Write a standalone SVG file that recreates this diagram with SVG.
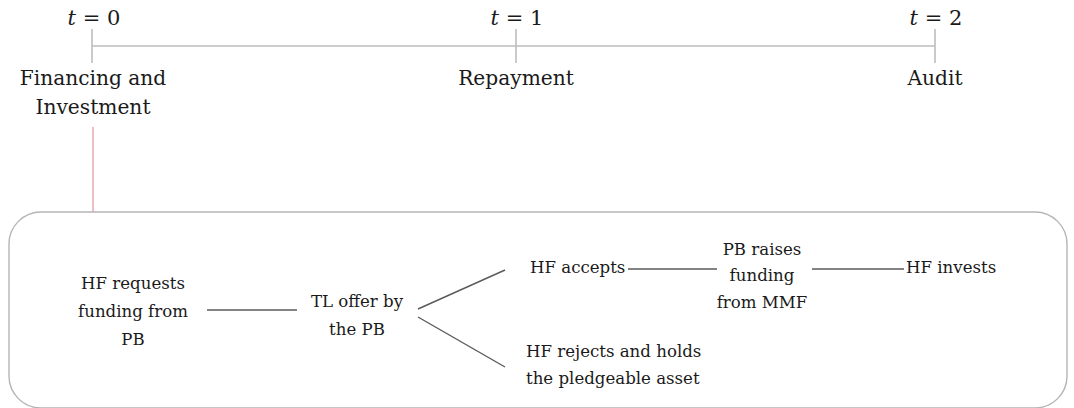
<svg xmlns="http://www.w3.org/2000/svg" width="1074" height="408" viewBox="0 0 1074 408">
  <style>
    .lbl { font-family: "DejaVu Serif", "Liberation Serif", serif; font-size: 16.6px; fill: #1a1a1a; }
    .stage { font-family: "DejaVu Serif", "Liberation Serif", serif; font-size: 20.2px; fill: #1a1a1a; }
    .math { font-family: "DejaVu Serif", "Liberation Serif", serif; font-size: 21px; fill: #1a1a1a; }
    .mid { text-anchor: middle; }
    .axis { stroke: #bdbdbd; stroke-width: 1.6; fill: none; }
    .edge { stroke: #5a5a5a; stroke-width: 1.4; fill: none; }
  </style>
  <rect width="1074" height="408" fill="#ffffff"/>

  <!-- timeline -->
  <g id="timeline">
    <line class="axis" x1="92" y1="46" x2="935" y2="46"/>
    <line class="axis" x1="92" y1="29" x2="92" y2="63"/>
    <line class="axis" x1="516" y1="29" x2="516" y2="63"/>
    <line class="axis" x1="935" y1="29" x2="935" y2="63"/>
    <text class="math mid" x="94" y="25"><tspan font-style="italic">t</tspan> = 0</text>
    <text class="math mid" x="517" y="25"><tspan font-style="italic">t</tspan> = 1</text>
    <text class="math mid" x="936" y="25"><tspan font-style="italic">t</tspan> = 2</text>
  </g>

  <g id="stage-financing">
    <text class="stage mid" x="93" y="85">Financing and</text>
    <text class="stage mid" x="93" y="114">Investment</text>
  </g>
  <g id="stage-repayment">
    <text class="stage mid" x="516" y="85">Repayment</text>
  </g>
  <g id="stage-audit">
    <text class="stage mid" x="935" y="85">Audit</text>
  </g>

  <!-- detail panel for t = 0 -->
  <line x1="93" y1="127" x2="93" y2="212" stroke="#e8a3ab" stroke-width="1.4"/>
  <rect id="detail-panel" x="9" y="212" width="1058" height="196" rx="32" ry="32" fill="none" stroke="#b5b5b5" stroke-width="1.4"/>

  <g id="connectors">
    <line class="edge" x1="207" y1="310" x2="297" y2="310"/>
    <line class="edge" x1="418" y1="309" x2="505" y2="270"/>
    <line class="edge" x1="418" y1="317" x2="505" y2="367"/>
    <line class="edge" x1="628" y1="269" x2="717" y2="269"/>
    <line class="edge" x1="812" y1="269" x2="904" y2="269"/>
  </g>

  <g id="node-request">
    <text class="lbl mid" x="133" y="289">HF requests</text>
    <text class="lbl mid" x="133" y="317">funding from</text>
    <text class="lbl mid" x="133" y="345">PB</text>
  </g>
  <g id="node-offer">
    <text class="lbl mid" x="357" y="307">TL offer by</text>
    <text class="lbl mid" x="357" y="335">the PB</text>
  </g>
  <g id="node-accept">
    <text class="lbl" x="530" y="273">HF accepts</text>
  </g>
  <g id="node-raise">
    <text class="lbl mid" x="762" y="255">PB raises</text>
    <text class="lbl mid" x="762" y="281">funding</text>
    <text class="lbl mid" x="762" y="308">from MMF</text>
  </g>
  <g id="node-invest">
    <text class="lbl" x="906" y="273">HF invests</text>
  </g>
  <g id="node-reject">
    <text class="lbl" x="526" y="357">HF rejects and holds</text>
    <text class="lbl" x="526" y="384">the pledgeable asset</text>
  </g>
</svg>
